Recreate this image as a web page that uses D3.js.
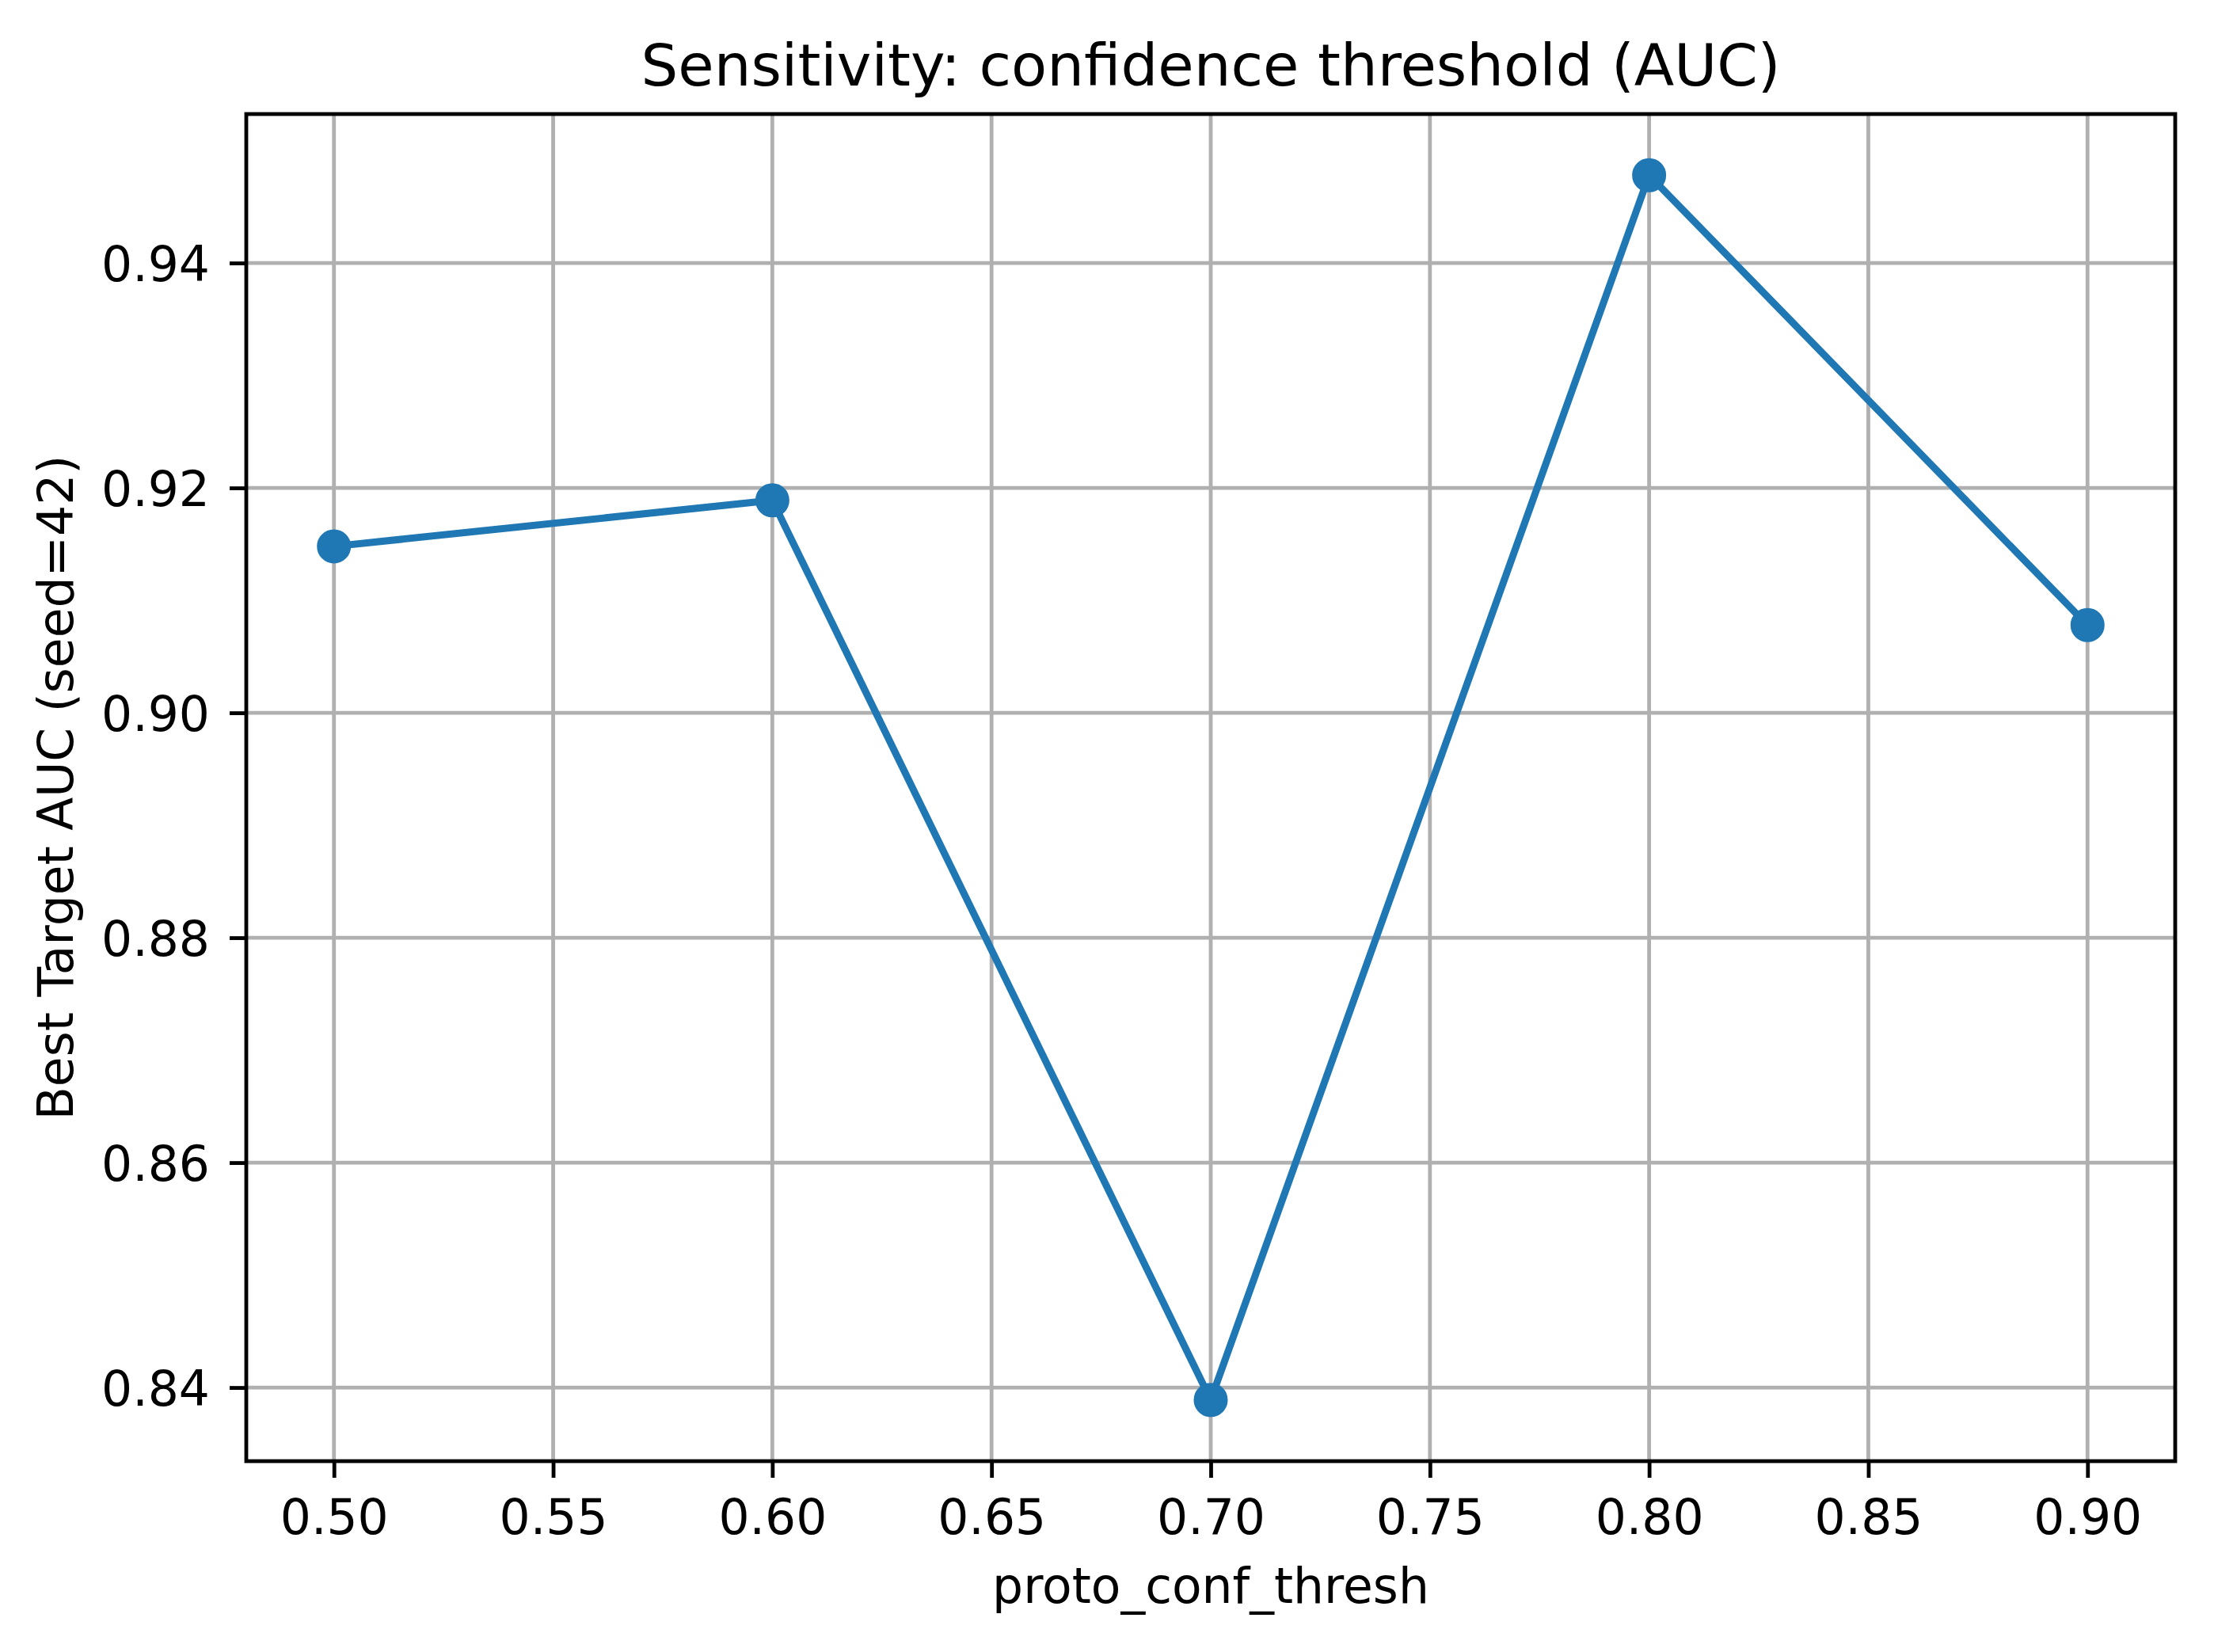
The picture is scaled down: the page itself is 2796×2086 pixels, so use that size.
<!DOCTYPE html>
<html>
<head>
<meta charset="utf-8">
<script src="https://cdn.jsdelivr.net/npm/d3@7"></script>
<style>
  html, body { margin: 0; padding: 0; background: #ffffff; }
  svg { display: block; }
  text { font-family: "DejaVu Sans", sans-serif; fill: #000; }
</style>
</head>
<body>
<svg id="chart" width="2796" height="2086"></svg>
<script>
// ---- data ----
const thresholds = [0.5, 0.6, 0.7, 0.8, 0.9];
const aucValues = [0.9148, 0.9189, 0.8389, 0.9478, 0.9078];
const xTicks = [0.50, 0.55, 0.60, 0.65, 0.70, 0.75, 0.80, 0.85, 0.90];
const yTicks = [0.84, 0.86, 0.88, 0.90, 0.92, 0.94];
const titleText = "Sensitivity: confidence threshold (AUC)";
const xLabelText = "proto_conf_thresh";
const yLabelText = "Best Target AUC (seed=42)";

// ---- layout ----
const W = 2796, H = 2086;
const plot = { left: 311, right: 2747, top: 144, bottom: 1845 };
const blue = "#1f77b4";
const gridColor = "#b0b0b0";
const fs = 61.5, titleFs = 73.8;

function padded(ext) {
  const m = (ext[1] - ext[0]) * 0.05;
  return [ext[0] - m, ext[1] + m];
}

const x = d3.scaleLinear().domain(padded(d3.extent(thresholds))).range([plot.left, plot.right]);
const y = d3.scaleLinear().domain(padded(d3.extent(aucValues))).range([plot.bottom, plot.top]);

const svg = d3.select("#chart");
svg.append("rect").attr("width", W).attr("height", H).attr("fill", "#fff");

// grid
const grid = svg.append("g");
grid.selectAll("line.gx").data(xTicks).join("line")
  .attr("x1", d => x(d)).attr("x2", d => x(d))
  .attr("y1", plot.top).attr("y2", plot.bottom)
  .attr("stroke", gridColor).attr("stroke-width", 4.8);
grid.selectAll("line.gy").data(yTicks).join("line")
  .attr("x1", plot.left).attr("x2", plot.right)
  .attr("y1", d => y(d)).attr("y2", d => y(d))
  .attr("stroke", gridColor).attr("stroke-width", 4.8);

// axes
const fmt = d3.format(".2f");
const xAxis = svg.append("g")
  .attr("transform", `translate(0,${plot.bottom})`)
  .call(d3.axisBottom(x).tickValues(xTicks).tickFormat(fmt).tickSize(21).tickPadding(21));
xAxis.select(".domain").remove();
xAxis.selectAll(".tick line").attr("stroke", "#000").attr("stroke-width", 4.8);
xAxis.selectAll(".tick text")
  .attr("font-size", fs).attr("font-family", "DejaVu Sans")
  .attr("y", 42).attr("dy", 50).attr("fill", "#000");

const yAxis = svg.append("g")
  .attr("transform", `translate(${plot.left},0)`)
  .call(d3.axisLeft(y).tickValues(yTicks).tickFormat(fmt).tickSize(21).tickPadding(21));
yAxis.select(".domain").remove();
yAxis.selectAll(".tick line").attr("stroke", "#000").attr("stroke-width", 4.8);
yAxis.selectAll(".tick text")
  .attr("font-size", fs).attr("font-family", "DejaVu Sans")
  .attr("x", -46).attr("dy", 22).attr("fill", "#000");

// line + markers
const pts = thresholds.map((t, i) => [t, aucValues[i]]);
svg.append("path")
  .datum(pts)
  .attr("fill", "none")
  .attr("stroke", blue)
  .attr("stroke-width", 9)
  .attr("stroke-linejoin", "round")
  .attr("stroke-linecap", "square")
  .attr("d", d3.line().x(d => x(d[0])).y(d => y(d[1])));

svg.selectAll("circle.pt").data(pts).join("circle")
  .attr("cx", d => x(d[0])).attr("cy", d => y(d[1]))
  .attr("r", 18.5)
  .attr("fill", blue).attr("stroke", blue).attr("stroke-width", 6);

// spines
svg.append("rect")
  .attr("x", plot.left).attr("y", plot.top)
  .attr("width", plot.right - plot.left).attr("height", plot.bottom - plot.top)
  .attr("fill", "none").attr("stroke", "#000").attr("stroke-width", 4.8)
  .attr("stroke-linejoin", "miter");

// title & labels
svg.append("text")
  .attr("x", (plot.left + plot.right) / 2).attr("y", 108)
  .attr("text-anchor", "middle").attr("font-size", titleFs)
  .text(titleText);

svg.append("text")
  .attr("x", (plot.left + plot.right) / 2).attr("y", 2024)
  .attr("text-anchor", "middle").attr("font-size", fs)
  .text(xLabelText);

svg.append("text")
  .attr("transform", `translate(92,${(plot.top + plot.bottom) / 2}) rotate(-90)`)
  .attr("text-anchor", "middle").attr("font-size", fs)
  .text(yLabelText);
</script>
</body>
</html>
